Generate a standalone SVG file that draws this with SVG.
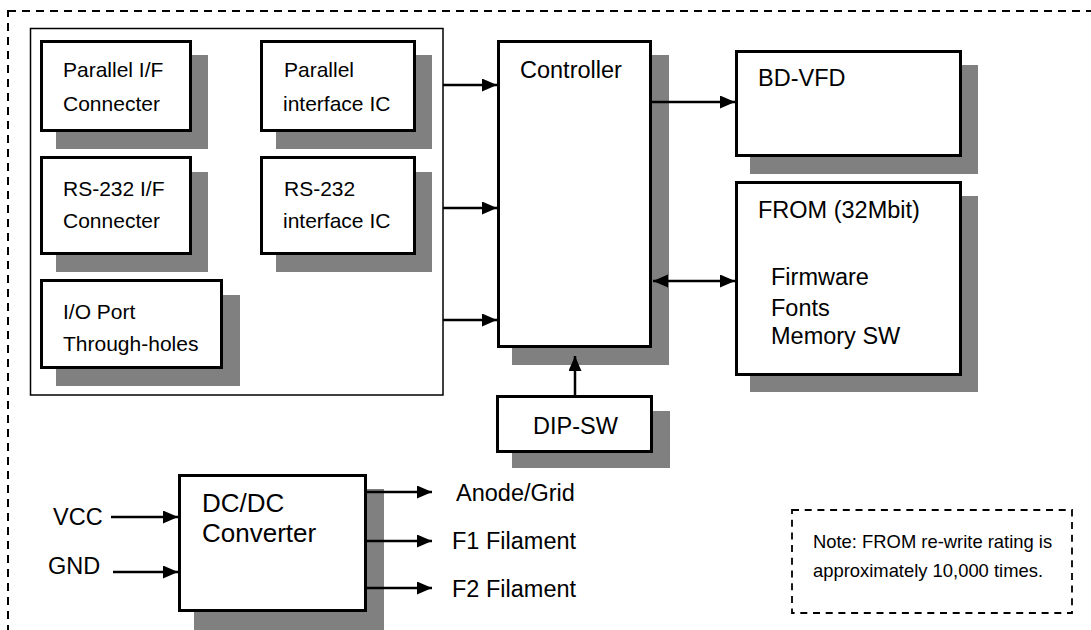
<svg xmlns="http://www.w3.org/2000/svg" width="1091" height="630" viewBox="0 0 1091 630">
<style>
.box{fill:#fff;stroke:#000;stroke-width:3}
.sh{fill:#808080}
.t{font-family:"Liberation Sans",Arial,sans-serif;fill:#000}
.s21{font-size:21px}
.s23{font-size:23.5px}
.s26{font-size:26px}
.s18{font-size:18.4px}
.ln{stroke:#000;stroke-width:2.5;fill:none}
</style>
<defs>
<marker id="ah" markerUnits="userSpaceOnUse" markerWidth="16" markerHeight="14" refX="15" refY="6.5" orient="auto-start-reverse">
<path d="M0,0 L15,6.5 L0,13 z" fill="#000"/>
</marker>
</defs>
<rect width="1091" height="630" fill="#fff"/>
<g id="outer-border">
<rect x="8" y="11" width="1110" height="650" fill="none" stroke="#000" stroke-width="2" stroke-dasharray="8 6"/>
</g>
<g id="interface-group">
<rect x="30.5" y="28.5" width="412.5" height="366.5" fill="none" stroke="#000" stroke-width="1.5"/>
</g>
<g id="parallel-connecter">
<rect class="sh" x="56" y="55" width="152" height="94"/>
<rect class="box" x="41.5" y="41.5" width="149" height="89"/>
<text class="t s21" x="63" y="77">Parallel I/F</text>
<text class="t s21" x="63" y="111">Connecter</text>
</g>
<g id="parallel-ic">
<rect class="sh" x="276" y="55" width="156" height="94"/>
<rect class="box" x="261.5" y="41.5" width="153" height="89"/>
<text class="t s21" x="284" y="77">Parallel</text>
<text class="t s21" x="283" y="111">interface IC</text>
</g>
<g id="rs232-connecter">
<rect class="sh" x="56" y="172" width="152" height="100"/>
<rect class="box" x="41.5" y="157.5" width="149" height="96"/>
<text class="t s21" x="63" y="196">RS-232 I/F</text>
<text class="t s21" x="63" y="228">Connecter</text>
</g>
<g id="rs232-ic">
<rect class="sh" x="276" y="172" width="156" height="100"/>
<rect class="box" x="261.5" y="157.5" width="153" height="96"/>
<text class="t s21" x="284" y="196">RS-232</text>
<text class="t s21" x="283" y="228">interface IC</text>
</g>
<g id="io-port">
<rect class="sh" x="56" y="295" width="184" height="91"/>
<rect class="box" x="41.5" y="280.5" width="180" height="87"/>
<text class="t s21" x="63" y="319">I/O Port</text>
<text class="t s21" x="63" y="351">Through-holes</text>
</g>
<g id="controller">
<rect class="sh" x="512" y="55" width="157" height="310"/>
<rect class="box" x="498.5" y="41.5" width="152" height="305"/>
<text class="t s23" x="520" y="78">Controller</text>
</g>
<g id="bd-vfd">
<rect class="sh" x="750" y="65" width="228" height="109"/>
<rect class="box" x="736.5" y="51.5" width="224" height="104"/>
<text class="t s23" x="758" y="86">BD-VFD</text>
</g>
<g id="from">
<rect class="sh" x="750" y="196" width="228" height="196"/>
<rect class="box" x="736.5" y="182.5" width="224" height="192"/>
<text class="t s23" x="758" y="218">FROM (32Mbit)</text>
<text class="t s23" x="771" y="285">Firmware</text>
<text class="t s23" x="771" y="316">Fonts</text>
<text class="t s23" x="771" y="344">Memory SW</text>
</g>
<g id="dip-sw">
<rect class="sh" x="512" y="411" width="158" height="57"/>
<rect class="box" x="497.5" y="396.5" width="154" height="55"/>
<text class="t s23" x="533" y="434">DIP-SW</text>
</g>
<g id="dcdc">
<rect class="sh" x="194" y="489" width="190" height="150"/>
<rect class="box" x="179.5" y="475.5" width="186" height="135"/>
<text class="t s26" x="202" y="512">DC/DC</text>
<text class="t s26" x="202" y="542">Converter</text>
</g>
<g id="labels">
<text class="t s23" x="53" y="525">VCC</text>
<text class="t s23" x="48" y="574">GND</text>
<text class="t s23" x="456" y="501">Anode/Grid</text>
<text class="t s23" x="452" y="549">F1 Filament</text>
<text class="t s23" x="452" y="597">F2 Filament</text>
</g>
<g id="note">
<rect x="792" y="510" width="280" height="103" fill="none" stroke="#000" stroke-width="1.8" stroke-dasharray="7 5.7"/>
<text class="t s18" x="813" y="548">Note: FROM re-write rating is</text>
<text class="t s18" x="813" y="577">approximately 10,000 times.</text>
</g>
<g id="connectors">
<line class="ln" x1="443" y1="85" x2="497" y2="85" marker-end="url(#ah)"/>
<line class="ln" x1="443" y1="208" x2="497" y2="208" marker-end="url(#ah)"/>
<line class="ln" x1="443" y1="320" x2="497" y2="320" marker-end="url(#ah)"/>
<line class="ln" x1="652" y1="102" x2="735" y2="102" marker-end="url(#ah)"/>
<line class="ln" x1="653" y1="281" x2="735" y2="281" marker-start="url(#ah)" marker-end="url(#ah)"/>
<line class="ln" x1="575" y1="395" x2="575" y2="356" marker-end="url(#ah)"/>
<line class="ln" x1="111" y1="517" x2="178" y2="517" marker-end="url(#ah)"/>
<line class="ln" x1="113" y1="572" x2="178" y2="572" marker-end="url(#ah)"/>
<line class="ln" x1="367" y1="492" x2="432" y2="492" marker-end="url(#ah)"/>
<line class="ln" x1="367" y1="541" x2="432" y2="541" marker-end="url(#ah)"/>
<line class="ln" x1="367" y1="588" x2="432" y2="588" marker-end="url(#ah)"/>
</g>
</svg>
